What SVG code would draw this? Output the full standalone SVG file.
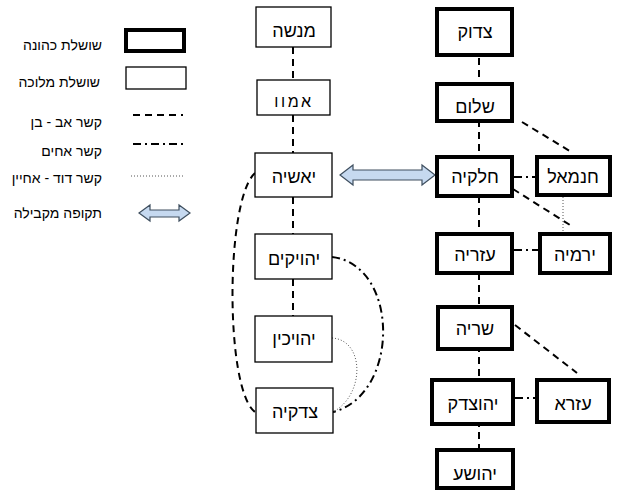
<svg xmlns="http://www.w3.org/2000/svg" width="618" height="491" viewBox="0 0 618 491">
<style>
text{font-family:"Liberation Sans",Arial,"Noto Sans",sans-serif;fill:#000}
.lbl{font-size:18px;text-anchor:middle}
.leg{font-size:14px;text-anchor:end}
.thick{fill:#fff;stroke:#000;stroke-width:4}
.thin{fill:#fff;stroke:#000;stroke-width:1.3}
.dash{fill:none;stroke:#000;stroke-width:2;stroke-dasharray:7 5}
.dd{fill:none;stroke:#000;stroke-width:2;stroke-dasharray:8 4 2 4}
.dot{fill:none;stroke:#555;stroke-width:1;stroke-dasharray:1 2}
.arr{fill:#c6d9f0;stroke:#3f4f5f;stroke-width:1.2}
</style>
<rect width="618" height="491" fill="#fff"/>
<g id="legend">
<rect class="thick" x="126" y="30" width="58" height="21"/>
<text class="leg" x="102" y="50">שושלת כהונה</text>
<rect class="thin" x="126" y="67" width="60" height="22"/>
<text class="leg" x="100" y="87">שושלת מלוכה</text>
<line class="dash" x1="133" y1="115" x2="183" y2="115"/>
<text class="leg" x="102" y="127">קשר אב - בן</text>
<line class="dd" x1="133" y1="144" x2="183" y2="144"/>
<text class="leg" x="102" y="156">קשר אחים</text>
<line class="dot" x1="131" y1="176" x2="183" y2="176"/>
<text class="leg" x="102" y="183">קשר דוד - אחיין</text>
<polygon class="arr" points="139,213 150,205 150,210 179,210 179,205 190,213 179,221 179,217 150,217 150,221"/>
<text class="leg" x="102" y="218">תקופה מקבילה</text>
</g>
<g id="connectors">
<line class="dash" x1="293" y1="47" x2="293" y2="80"/>
<line class="dash" x1="293" y1="115" x2="293" y2="153"/>
<line class="dash" x1="293" y1="197" x2="293" y2="234"/>
<line class="dash" x1="293" y1="279" x2="293" y2="316"/>
<line class="dash" x1="479" y1="46" x2="479" y2="82"/>
<line class="dash" x1="479" y1="120" x2="479" y2="155"/>
<line class="dash" x1="479" y1="196" x2="479" y2="232"/>
<line class="dash" x1="479" y1="273" x2="479" y2="305"/>
<line class="dash" x1="479" y1="345" x2="479" y2="378"/>
<line class="dash" x1="479" y1="420" x2="479" y2="448"/>
<line class="dash" x1="522" y1="122" x2="573" y2="153"/>
<line class="dash" x1="513" y1="189" x2="570" y2="225"/>
<line class="dash" x1="515" y1="325" x2="577" y2="373"/>
<line class="dd" x1="514" y1="177" x2="535" y2="177"/>
<line class="dd" x1="514" y1="250" x2="538" y2="250"/>
<line class="dd" x1="515" y1="398" x2="535" y2="398"/>
<line class="dot" x1="563" y1="197" x2="563" y2="232"/>
<path class="dash" d="M255 173 C225 200 225 390 255 412"/>
<path class="dd" d="M332 257 C400 265 400 395 333 412"/>
<path class="dot" d="M332 338 C365 340 365 395 333 412"/>
<polygon class="arr" points="340,175 353,165 353,170 422,170 422,165 435,175 422,185 422,180 353,180 353,185"/>
</g>
<g id="n-menashe"><rect class="thin" x="256" y="7" width="75" height="40"/><text class="lbl" x="294" y="37">מנשה</text></g>
<g id="n-amon"><rect class="thin" x="257" y="80" width="73" height="35"/><text class="lbl" x="294" y="107" style="font-size:16px;letter-spacing:2.5px">אמוו</text></g>
<g id="n-yoshiyahu"><rect class="thin" x="255" y="153" width="77" height="44"/><text class="lbl" x="294" y="183">יאשיה</text></g>
<g id="n-yehoyakim"><rect class="thin" x="255" y="234" width="77" height="45"/><text class="lbl" x="294" y="265">יהויקים</text></g>
<g id="n-yehoyachin"><rect class="thin" x="255" y="316" width="77" height="46"/><text class="lbl" x="294" y="345">יהויכין</text></g>
<g id="n-tzidkiyahu"><rect class="thin" x="256" y="388" width="77" height="45"/><text class="lbl" x="295" y="418">צדקיה</text></g>
<g id="n-tzadok"><rect class="thick" x="437" y="9" width="75" height="46"/><text class="lbl" x="475" y="38">צדוק</text></g>
<g id="n-shalom"><rect class="thick" x="437" y="84" width="75" height="37"/><text class="lbl" x="475" y="113">שלום</text></g>
<g id="n-chilkiya"><rect class="thick" x="437" y="157" width="75" height="39"/><text class="lbl" x="475" y="183">חלקיה</text></g>
<g id="n-azarya"><rect class="thick" x="437" y="234" width="75" height="39"/><text class="lbl" x="475" y="261">עזריה</text></g>
<g id="n-sraya"><rect class="thick" x="438" y="307" width="74" height="42"/><text class="lbl" x="475" y="335">שריה</text></g>
<g id="n-yehotzadak"><rect class="thick" x="432" y="380" width="81" height="44"/><text class="lbl" x="473" y="410">יהוצדק</text></g>
<g id="n-yehoshua"><rect class="thick" x="437" y="450" width="76" height="38"/><text class="lbl" x="475" y="480">יהושע</text></g>
<g id="n-chanamel"><rect class="thick" x="537" y="157" width="73" height="38"/><text class="lbl" x="573" y="183">חנמאל</text></g>
<g id="n-yirmiyahu"><rect class="thick" x="540" y="234" width="70" height="39"/><text class="lbl" x="575" y="261">ירמיה</text></g>
<g id="n-ezra"><rect class="thick" x="537" y="380" width="72" height="42"/><text class="lbl" x="573" y="410">עזרא</text></g>
</svg>
